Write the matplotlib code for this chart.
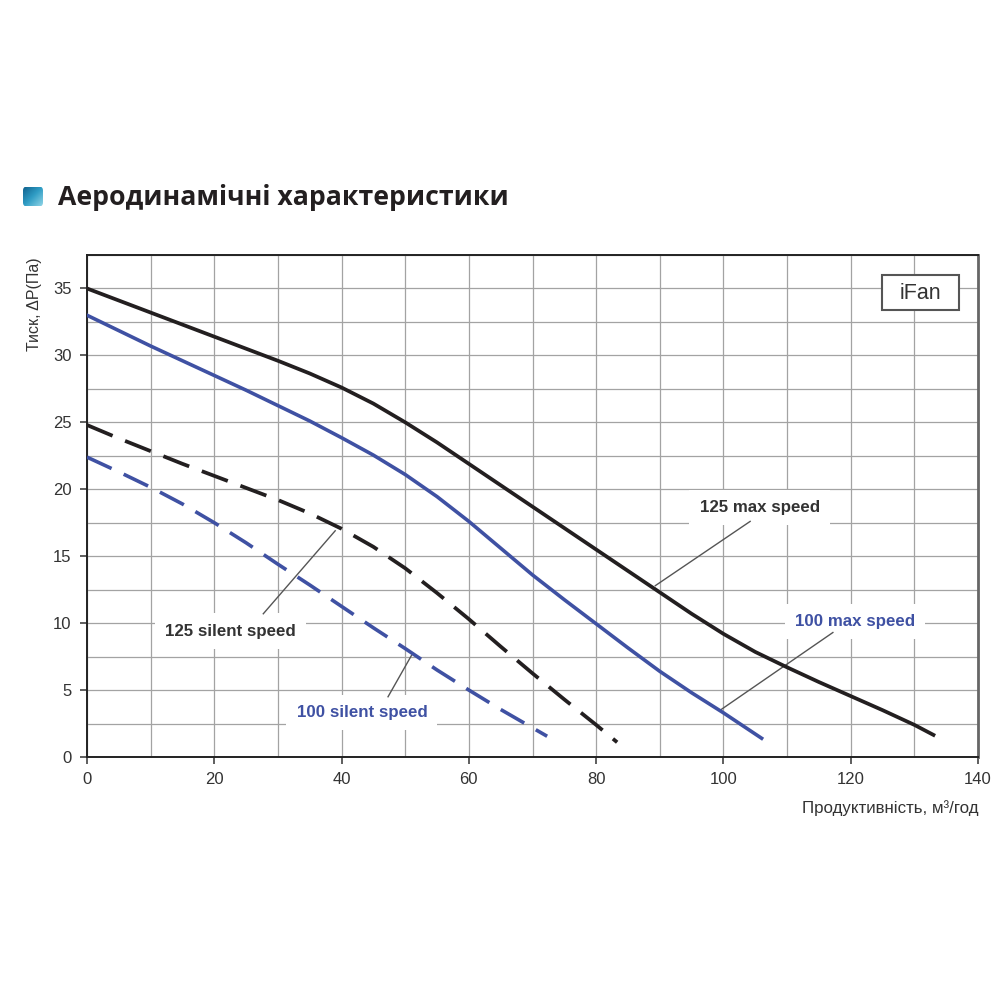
import numpy as np
import matplotlib
matplotlib.use("Agg")
import matplotlib.pyplot as plt
from matplotlib.patches import FancyBboxPatch, Rectangle

# curves
x_125_max = [0, 5, 10, 15, 20, 25, 30, 35, 40, 45, 50, 55, 60, 65, 70, 75, 80, 85, 90, 95, 100, 105, 110, 115, 120, 125, 130, 133]
y_125_max = [35, 34.1, 33.2, 32.3, 31.4, 30.5, 29.6, 28.65, 27.6, 26.4, 25, 23.5, 21.9, 20.3, 18.7, 17.1, 15.5, 13.9, 12.3, 10.7, 9.2, 7.85, 6.7, 5.6, 4.55, 3.5, 2.4, 1.65]

x_100_max = [0, 5, 10, 15, 20, 25, 30, 35, 40, 45, 50, 55, 60, 65, 70, 75, 80, 85, 90, 95, 100, 106]
y_100_max = [33, 31.85, 30.7, 29.6, 28.5, 27.4, 26.25, 25.1, 23.85, 22.55, 21.1, 19.45, 17.6, 15.6, 13.6, 11.75, 9.95, 8.15, 6.4, 4.8, 3.3, 1.4]

x_125_silent = [0, 5, 10, 15, 20, 25, 30, 35, 40, 45, 50, 55, 60, 65, 70, 75, 80, 83.3]
y_125_silent = [24.8, 23.8, 22.85, 21.9, 21, 20.1, 19.2, 18.2, 17.05, 15.7, 14.1, 12.25, 10.3, 8.25, 6.25, 4.3, 2.4, 1.1]

x_100_silent = [0, 5, 10, 15, 20, 25, 30, 35, 40, 45, 50, 55, 60, 65, 72.3]
y_100_silent = [22.4, 21.3, 20.15, 18.9, 17.5, 16, 14.4, 12.85, 11.25, 9.65, 8.1, 6.5, 5, 3.55, 1.55]

x_ticks = [0, 20, 40, 60, 80, 100, 120, 140]
y_ticks = [0, 5, 10, 15, 20, 25, 30, 35]

BLACK = "#231f20"
BLUE = "#3f51a3"
GREY = "#555555"

plt.rcParams["font.family"] = ["Liberation Sans", "DejaVu Sans"]

fig = plt.figure(figsize=(10, 10), dpi=100, facecolor="white")
ax = fig.add_axes([0.087, 0.243, 0.891, 0.502])

ax.set_xlim(0, 140)
ax.set_ylim(0, 37.5)
ax.set_xticks(x_ticks)
ax.set_yticks(y_ticks)
ax.set_xticks(np.arange(0, 141, 10), minor=True)
ax.set_yticks(np.arange(0, 37.6, 2.5), minor=True)
ax.grid(which="both", color="#a3a3a3", lw=0.9, zorder=0)
ax.set_axisbelow(True)
ax.tick_params(which="major", length=5, width=1.1, labelsize=12, colors="#333333", pad=6)
ax.tick_params(which="minor", length=0)
for name, spine in ax.spines.items():
    spine.set_linewidth(1.4)
    spine.set_color("#222222")
ax.spines["right"].set_color("#666666")
ax.spines["right"].set_linewidth(2)

ax.plot(x_125_max, y_125_max, color=BLACK, lw=2.7, zorder=5)
ax.plot(x_100_max, y_100_max, color=BLUE, lw=2.6, zorder=5)
ax.plot(x_125_silent, y_125_silent, color=BLACK, lw=2.7, ls=(0, (7.4, 3.6)), zorder=5)
ax.plot(x_100_silent, y_100_silent, color=BLUE, lw=2.6, ls=(0, (7.5, 3.7)), zorder=5)

box = dict(boxstyle="square,pad=0.6", fc="white", ec="none")
ax.text(105.7, 18.65, "125 max speed", color="#333333", fontsize=12.2, fontweight="bold",
        ha="center", va="center", bbox=box, zorder=3)
ax.text(120.7, 10.1, "100 max speed", color=BLUE, fontsize=12.2, fontweight="bold",
        ha="center", va="center", bbox=box, zorder=3)
ax.text(22.5, 9.4, "125 silent speed", color="#333333", fontsize=12.2, fontweight="bold",
        ha="center", va="center", bbox=box, zorder=3)
ax.text(43.2, 3.3, "100 silent speed", color=BLUE, fontsize=12.2, fontweight="bold",
        ha="center", va="center", bbox=box, zorder=3)

# leader lines
ax.plot([104.2, 89.3], [17.6, 12.8], color=GREY, lw=1, zorder=4)
ax.plot([117.2, 99.5], [9.3, 3.5], color=GREY, lw=1, zorder=4)
ax.plot([27.7, 39], [10.7, 16.9], color=GREY, lw=1, zorder=4)
ax.plot([47.3, 51], [4.5, 7.6], color=GREY, lw=1, zorder=4)

ax.add_patch(Rectangle((124.9, 33.4), 12.1, 2.6, fc="white", ec="#555555", lw=1.5, zorder=6))
ax.text(130.95, 34.65, "iFan", color="#333333", fontsize=15.5, ha="center", va="center", zorder=7)

fig.text(0.978, 0.192, "Продуктивність, м³/год", color="#333333", fontsize=12.2, ha="right", va="center")
fig.text(0.034, 0.696, "Тиск, ΔP(Па)", color="#333333", fontsize=11.5, rotation=90, ha="center", va="center")

fig.text(0.058, 0.8025, "Аеродинамічні характеристики", color="#231f20", fontsize=19.2,
         fontweight="bold", family=["Open Sans", "DejaVu Sans"], ha="left", va="center")

# title icon with a diagonal gradient
icon = fig.add_axes([0.023, 0.7935, 0.020, 0.020])
icon.axis("off")
grad = np.add.outer(np.linspace(0, 1, 40), np.linspace(0, 1, 40)) / 2
cmap = matplotlib.colors.LinearSegmentedColormap.from_list("ic", ["#0f5f8c", "#2f9cc4", "#8fd4e6"])
im = icon.imshow(grad, cmap=cmap, extent=(0, 1, 0, 1), origin="upper", aspect="auto")
clip = FancyBboxPatch((0.1, 0.1), 0.8, 0.8, boxstyle="round,pad=0.1,rounding_size=0.2",
                      transform=icon.transData, fc="none", ec="none")
icon.add_patch(clip)
im.set_clip_path(clip)

fig.savefig("out.png", dpi=100, facecolor="white")
